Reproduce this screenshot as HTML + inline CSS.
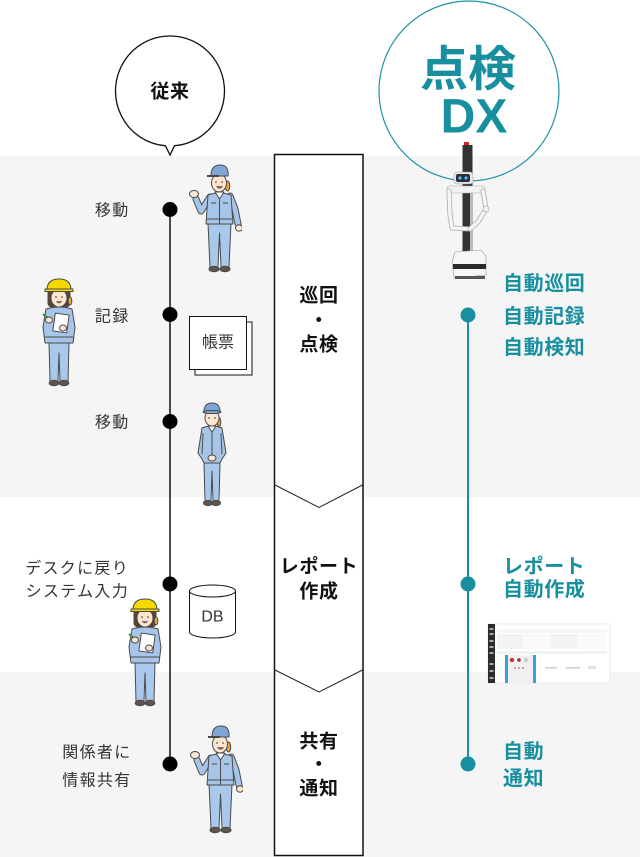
<!DOCTYPE html>
<html><head><meta charset="utf-8">
<style>
html,body{margin:0;padding:0;background:#fff;}
body{width:640px;height:857px;overflow:hidden;}
svg{display:block;}
text{font-family:"Liberation Sans","Noto Sans CJK JP",sans-serif;}
.lb{font-size:16px;fill:#333;letter-spacing:1.3px;}
.bx{font-size:19px;font-weight:bold;fill:#111;letter-spacing:0.6px;}
.tl{font-size:20px;font-weight:bold;fill:#178f9f;letter-spacing:0.6px;}
</style></head>
<body>
<svg width="640" height="857" viewBox="0 0 640 857" xmlns="http://www.w3.org/2000/svg">
<defs>
  <!-- waving worker -->
  <symbol id="wv" viewBox="0 0 56 112">
    <g stroke="#4a4a4a" stroke-width="1" stroke-linejoin="round">
      <polyline points="44,35 49,48 52,63" fill="none" stroke="#4a4a4a" stroke-width="7" stroke-linecap="round"/>
      <polyline points="44,35 49,48 52,63" fill="none" stroke="#a6c5e9" stroke-width="5" stroke-linecap="round"/>
      <ellipse cx="53" cy="67" rx="3.5" ry="3.2" fill="#fde5d0"/>
      <polyline points="24,36 15,50 10,38" fill="none" stroke="#4a4a4a" stroke-width="7" stroke-linecap="round"/>
      <polyline points="24,36 15,50 10,38" fill="none" stroke="#a6c5e9" stroke-width="5" stroke-linecap="round"/>
      <ellipse cx="8" cy="33" rx="4.5" ry="3.5" fill="#fde5d0"/>
      <path d="M22,62 L45,62 L43,106 L35,106 L33.5,72 L32,106 L24,106 Z" fill="#a9c9ec"/>
      <ellipse cx="28" cy="108" rx="5" ry="2.8" fill="#5d544d"/>
      <ellipse cx="39" cy="108" rx="5" ry="2.8" fill="#5d544d"/>
      <path d="M22,34 Q33,30 45,34 L47,63 L20,63 Z" fill="#a6c5e9"/>
      <line x1="20.5" y1="58" x2="46.5" y2="58"/>
      <line x1="33.5" y1="37" x2="33.5" y2="63"/>
      <line x1="25" y1="42" x2="30" y2="42"/>
      <line x1="37" y1="42" x2="42" y2="42"/>
      <path d="M29,31 L38,31 L33.5,38 Z" fill="#fff"/>
      <ellipse cx="41.5" cy="25" rx="2.2" ry="5" fill="#f2a23a"/>
      <ellipse cx="33" cy="22" rx="7.5" ry="9" fill="#fde5d0"/>
      <path d="M25,15 Q25,4 34,4 Q43,4 42,15 Z" fill="#7ea7d8"/>
      <line x1="21" y1="15" x2="33" y2="15" stroke-width="2"/>
      <circle cx="30" cy="21" r="0.8" fill="#333" stroke="none"/>
      <circle cx="36" cy="21" r="0.8" fill="#333" stroke="none"/>
      <path d="M30.5,25.5 Q33.5,29 36.5,25.5 Z" fill="#c0504d" stroke-width="0.6"/>
    </g>
  </symbol>
  <!-- standing worker -->
  <symbol id="st" viewBox="0 0 38 106">
    <g stroke="#4a4a4a" stroke-width="1" stroke-linejoin="round">
      <path d="M11,62 L27,62 L26,100 L20,100 L19,70 L18,100 L12,100 Z" fill="#a9c9ec"/>
      <ellipse cx="15" cy="102" rx="4.5" ry="2.6" fill="#5d544d"/>
      <ellipse cx="23" cy="102" rx="4.5" ry="2.6" fill="#5d544d"/>
      <path d="M9,27 Q19,23 29,27 L33,52 L29,58 L27,62 L11,62 L9,58 L5,52 Z" fill="#a6c5e9"/>
      <line x1="10" y1="32" x2="9" y2="53"/>
      <line x1="28" y1="32" x2="29" y2="53"/>
      <line x1="19" y1="31" x2="19" y2="55"/>
      <ellipse cx="19" cy="57" rx="4" ry="3" fill="#fde5d0"/>
      <path d="M15,25 L23,25 L19,31 Z" fill="#fff"/>
      <ellipse cx="26" cy="21" rx="1.8" ry="4.5" fill="#f2a23a"/>
      <ellipse cx="19" cy="17" rx="7" ry="8" fill="#fde5d0"/>
      <path d="M11,11 Q11,2 19,2 Q27,2 27,11 Z" fill="#7ea7d8"/>
      <ellipse cx="19" cy="11" rx="9" ry="1.5" fill="#7ea7d8"/>
      <line x1="15" y1="17" x2="17" y2="17"/>
      <line x1="21" y1="17" x2="23" y2="17"/>
    </g>
  </symbol>
  <!-- helmet worker -->
  <symbol id="hm" viewBox="0 0 40 112">
    <g stroke="#4a4a4a" stroke-width="1" stroke-linejoin="round">
      <path d="M10,66 L30,66 L29,104 L21,104 L20,76 L19,104 L11,104 Z" fill="#a9c9ec"/>
      <ellipse cx="15" cy="106" rx="4.8" ry="2.8" fill="#5d544d"/>
      <ellipse cx="25" cy="106" rx="4.8" ry="2.8" fill="#5d544d"/>
      <path d="M7,32 Q20,28 33,32 L36,50 L34,66 L6,66 L4,50 Z" fill="#a6c5e9"/>
      <line x1="5" y1="60" x2="35" y2="60"/>
      <rect x="9" y="12" width="22" height="18" rx="4" fill="#5a4334"/>
      <ellipse cx="31" cy="24" rx="1.8" ry="4" fill="#f2a23a"/>
      <ellipse cx="20" cy="21" rx="8" ry="9" fill="#fde5d0"/>
      <path d="M8,13 Q8,2 20,2 Q32,2 32,13 Z" fill="#f7d900"/>
      <rect x="6" y="12" width="28" height="2.5" fill="#f7d900"/>
      <circle cx="17" cy="20" r="0.8" fill="#333" stroke="none"/>
      <circle cx="23" cy="20" r="0.8" fill="#333" stroke="none"/>
      <path d="M17.5,24.5 Q20,27.5 22.5,24.5 Z" fill="#c0504d" stroke-width="0.6"/>
      <rect x="15" y="37" width="14" height="18" fill="#fff" transform="rotate(8 22 46)"/>
      <line x1="4" y1="37" x2="11" y2="43" stroke="#3a8a3a" stroke-width="2"/>
      <ellipse cx="10" cy="43" rx="3.5" ry="3" fill="#fde5d0"/>
      <ellipse cx="24" cy="51" rx="3.5" ry="3" fill="#fde5d0"/>
    </g>
  </symbol>
</defs>

<!-- background bands -->
<rect x="0" y="156" width="640" height="341" fill="#f5f5f5"/>
<rect x="0" y="672" width="640" height="185" fill="#f5f5f5"/>

<!-- speech bubble 従来 -->
<path d="M174.5,145.8 A54.5,55 0 1 0 165.5,145.8 L170,155 Z" fill="#fff" stroke="#111" stroke-width="1.3"/>
<text x="170" y="92" class="bx" text-anchor="middle" dominant-baseline="central" style="font-size:19px">従来</text>

<!-- DX circle -->
<circle cx="469" cy="91" r="90" fill="none" stroke="#2093a6" stroke-width="1.2"/>
<text x="468" y="70" text-anchor="middle" dominant-baseline="central" style="font-size:48px;font-weight:bold;fill:#178f9f">点検</text>
<text x="474" y="117" text-anchor="middle" dominant-baseline="central" style="font-size:48px;font-weight:bold;fill:#178f9f">DX</text>

<!-- center process column -->
<rect x="274.5" y="154.5" width="88.5" height="701" fill="#fff" stroke="#111" stroke-width="1.5"/>
<polyline points="275,485 319,507.5 362.5,485" fill="none" stroke="#222" stroke-width="1"/>
<polyline points="275,670 319,692 362.5,670" fill="none" stroke="#222" stroke-width="1"/>
<text x="319" y="296" class="bx" text-anchor="middle" dominant-baseline="central">巡回</text>
<text x="319" y="321" class="bx" text-anchor="middle" dominant-baseline="central">・</text>
<text x="319" y="345" class="bx" text-anchor="middle" dominant-baseline="central">点検</text>
<text x="319" y="567" class="bx" text-anchor="middle" dominant-baseline="central">レポート</text>
<text x="319" y="592" class="bx" text-anchor="middle" dominant-baseline="central">作成</text>
<text x="319" y="742" class="bx" text-anchor="middle" dominant-baseline="central">共有</text>
<text x="319" y="765" class="bx" text-anchor="middle" dominant-baseline="central">・</text>
<text x="319" y="789" class="bx" text-anchor="middle" dominant-baseline="central">通知</text>

<!-- left timeline -->
<line x1="170" y1="209" x2="170" y2="764" stroke="#111" stroke-width="1.5"/>
<circle cx="170" cy="209.5" r="7.5" fill="#000"/>
<circle cx="170" cy="314.5" r="7.5" fill="#000"/>
<circle cx="170" cy="421.5" r="7.5" fill="#000"/>
<circle cx="170" cy="584" r="7.5" fill="#000"/>
<circle cx="170" cy="764" r="7.5" fill="#000"/>

<text x="129.5" y="211" class="lb" text-anchor="end" dominant-baseline="central">移動</text>
<text x="129.5" y="317" class="lb" text-anchor="end" dominant-baseline="central">記録</text>
<text x="129.5" y="423" class="lb" text-anchor="end" dominant-baseline="central">移動</text>
<text x="129" y="569" class="lb" text-anchor="end" dominant-baseline="central">デスクに戻り</text>
<text x="129" y="592" class="lb" text-anchor="end" dominant-baseline="central">システム入力</text>
<text x="131.5" y="753" class="lb" text-anchor="end" dominant-baseline="central">関係者に</text>
<text x="131.5" y="781" class="lb" text-anchor="end" dominant-baseline="central">情報共有</text>

<!-- 帳票 documents -->
<rect x="195" y="322" width="57" height="53" fill="#fff" stroke="#111" stroke-width="1"/>
<rect x="189.5" y="316.5" width="57" height="53" fill="#fff" stroke="#111" stroke-width="1"/>
<text x="218" y="343" text-anchor="middle" dominant-baseline="central" style="font-size:16px;fill:#333">帳票</text>

<!-- DB cylinder -->
<path d="M189.5,591 L189.5,632 A23,6 0 0 0 235.5,632 L235.5,591" fill="#fff" stroke="#111" stroke-width="1"/>
<ellipse cx="212.5" cy="591" rx="23" ry="6" fill="#fff" stroke="#111" stroke-width="1"/>
<text x="212.5" y="617" text-anchor="middle" dominant-baseline="central" style="font-size:16px;fill:#333">DB</text>

<!-- workers -->
<use href="#wv" x="186" y="161" width="56" height="112"/>
<use href="#hm" x="39" y="277" width="40" height="112"/>
<use href="#st" x="193" y="401" width="38" height="106"/>
<use href="#hm" x="125" y="597" width="40" height="112"/>
<use href="#wv" x="187" y="722" width="56" height="112"/>

<!-- right timeline -->
<line x1="468" y1="315" x2="468" y2="764" stroke="#178f9f" stroke-width="2"/>
<circle cx="468" cy="315" r="7.5" fill="#178f9f"/>
<circle cx="468" cy="584" r="7.5" fill="#178f9f"/>
<circle cx="468" cy="764" r="7.5" fill="#178f9f"/>

<text x="503" y="284" class="tl" dominant-baseline="central">自動巡回</text>
<text x="503" y="317" class="tl" dominant-baseline="central">自動記録</text>
<text x="503" y="348" class="tl" dominant-baseline="central">自動検知</text>
<text x="503" y="567" class="tl" dominant-baseline="central">レポート</text>
<text x="503" y="590" class="tl" dominant-baseline="central">自動作成</text>
<text x="503" y="752" class="tl" dominant-baseline="central">自動</text>
<text x="503" y="779" class="tl" dominant-baseline="central">通知</text>

<!-- robot -->
<g>
  <rect x="464" y="142" width="5" height="3" fill="#d22"/>
  <rect x="462.5" y="145" width="10" height="120" fill="#333"/>
  <rect x="470" y="190" width="3" height="70" fill="#bbb"/>
  <rect x="454" y="172" width="19" height="12" rx="3" fill="#e8e8e8" stroke="#999" stroke-width="0.5"/>
  <rect x="456" y="174" width="14" height="8" rx="2" fill="#2a2f3a"/>
  <circle cx="460" cy="178" r="1.6" fill="#4cc3ff"/>
  <circle cx="466" cy="178" r="1.6" fill="#4cc3ff"/>
  <rect x="447" y="186" width="38" height="7" rx="3" fill="#f2f2f2" stroke="#aaa" stroke-width="0.6"/>
  <path d="M449,191 L450,215 L452,228 L470,229" fill="none" stroke="#aaa" stroke-width="5" stroke-linecap="round" stroke-linejoin="round"/>
  <path d="M449,191 L450,215 L452,228 L470,229" fill="none" stroke="#f4f4f4" stroke-width="3.5" stroke-linecap="round" stroke-linejoin="round"/>
  <path d="M483,191 L486,209 L478,222 L470,229" fill="none" stroke="#aaa" stroke-width="5" stroke-linecap="round" stroke-linejoin="round"/>
  <path d="M483,191 L486,209 L478,222 L470,229" fill="none" stroke="#f4f4f4" stroke-width="3.5" stroke-linecap="round" stroke-linejoin="round"/>
  <circle cx="486" cy="209" r="3" fill="#f0f0f0" stroke="#aaa" stroke-width="0.6"/>
  <path d="M455,252 L481,250 L486,256 L486,275 L454,278 L452,262 Z" fill="#f6f6f6" stroke="#999" stroke-width="0.6"/>
  <rect x="453" y="264" width="33" height="5" fill="#2a2a2a"/>
  <rect x="455" y="276" width="30" height="3" fill="#555"/>
</g>

<!-- report screenshot thumbnail -->
<g>
  <rect x="488" y="624" width="122" height="59" fill="#fff" stroke="#e2e8ee" stroke-width="0.8"/>
  <rect x="488" y="624" width="7" height="59" fill="#2c2c2c"/>
  <rect x="489.5" y="628" width="4" height="2" fill="#aaa"/>
  <rect x="489.5" y="633" width="4" height="2" fill="#aaa"/>
  <rect x="489.5" y="640" width="4" height="2" fill="#aaa"/>
  <rect x="489.5" y="646" width="4" height="2" fill="#aaa"/>
  <rect x="489.5" y="652" width="4" height="2" fill="#aaa"/>
  <rect x="489.5" y="663" width="4" height="2" fill="#aaa"/>
  <rect x="489.5" y="670" width="4" height="2" fill="#aaa"/>
  <rect x="489.5" y="677" width="4" height="2" fill="#aaa"/>
  <rect x="497" y="629" width="110" height="4" fill="#f3f5f7"/>
  <rect x="497" y="634" width="54" height="15" fill="#f1f3f5"/>
  <rect x="551" y="634" width="54" height="15" fill="#f1f3f5"/>
  <rect x="523" y="634" width="28" height="15" fill="#fafafa"/>
  <rect x="577" y="634" width="28" height="15" fill="#fafafa"/>
  <rect x="497" y="651" width="110" height="3" fill="#f0f2f4"/>
  <rect x="505" y="655" width="31" height="28" fill="#eef0f2"/>
  <rect x="505" y="655" width="3" height="28" fill="#3aa0d8"/>
  <rect x="533" y="655" width="3" height="28" fill="#3aa0d8"/>
  <circle cx="512" cy="660" r="2.2" fill="#c33"/>
  <circle cx="519" cy="660" r="1.8" fill="#a22"/>
  <circle cx="526" cy="660" r="2.2" fill="#ccc"/>
  <circle cx="515" cy="668" r="0.8" fill="#c33"/>
  <circle cx="519" cy="668" r="0.8" fill="#c33"/>
  <circle cx="523" cy="668" r="0.8" fill="#c33"/>
  <rect x="545" y="667" width="12" height="1.5" fill="#ccc"/>
  <rect x="566" y="667" width="14" height="1.5" fill="#ccc"/>
  <rect x="588" y="666" width="8" height="3" fill="#e4e4e4"/>
</g>
</svg>
</body></html>
